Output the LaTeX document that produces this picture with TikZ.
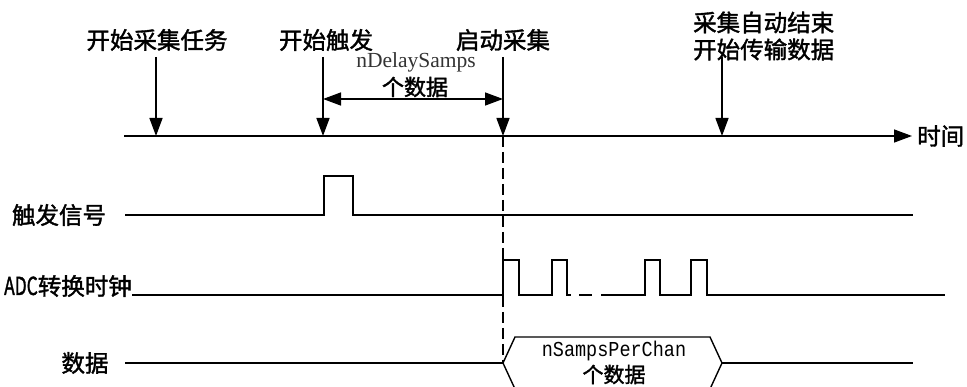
\documentclass[tikz,border=0pt]{standalone}
\usepackage{fontspec}
\setmainfont{Noto Sans CJK SC}[FakeBold=1.6]
\newfontfamily\serifen{Liberation Serif}
\newfontfamily\monoen{Liberation Mono}
\usetikzlibrary{arrows.meta}
\tikzset{
  lbl/.style={font=\fontsize{23.5}{27}\selectfont, inner sep=0pt, align=left},
  sig/.style={line width=1.4pt, line join=miter},
  evt/.style={line width=1.4pt, -{Triangle[length=18pt,width=13pt]}},
  span/.style={line width=1.4pt, {Triangle[length=18pt,width=13pt]}-{Triangle[length=18pt,width=13pt]}},
  guide/.style={line width=1.2pt, dash pattern=on 11pt off 5pt},
}
\begin{document}
\begin{tikzpicture}[x=1pt,y=-1pt]
\useasboundingbox (0,0) rectangle (967,387);
\clip (0,0) rectangle (967,387);

% time axis
\coordinate (ax0) at (124,136);
\node[lbl, anchor=west] (time) at (917,136) {时间};
\draw[evt] (ax0) -- ([xshift=-5pt]time.west);

% event labels
\node[lbl] (e1) at (157,40) {开始采集任务};
\node[lbl] (e2) at (326,40) {开始触发};
\node[lbl] (e3) at (503,40) {启动采集};
\node[lbl, anchor=west] (e4) at (693,36) {采集自动结束\\开始传输数据};

% event arrows
\coordinate (a1) at (156,57);  \coordinate (t1) at (156,136);
\coordinate (a2) at (323,57);  \coordinate (t2) at (323,136);
\coordinate (a3) at (503,57);  \coordinate (t3) at (503,136);
\coordinate (a4) at (722,57);  \coordinate (t4) at (722,136);
\draw[evt] (a1) -- (t1);
\draw[evt] (a2) -- (t2);
\draw[evt] (a3) -- (t3);
\draw[evt] (a4) -- (t4);

% delay span
\coordinate (d1) at (323,99);
\coordinate (d2) at (503,99);
\draw[span] (d1) -- (d2);
\node[inner sep=0pt, font=\serifen\fontsize{21.5}{24}\selectfont, text=black!80] (dly) at (416,62) {nDelaySamps};
\node[inner sep=0pt, font=\fontsize{22}{24}\selectfont] (dlyc) at (415,87) {个数据};

% trigger signal
\node[lbl] (trig) at (59,215) {触发信号};
\coordinate (tr0) at (125,215);
\coordinate (tr1) at (913,215);
\draw[sig] (tr0) -- (324,215) -- (324,176) -- (353,176) -- (353,215) -- (tr1);

% ADC clock
\node[lbl, anchor=east] (clk) at (132,286) {\scalebox{0.74}[1.05]{ADC}转换时钟};
\coordinate (ck0) at (132,295);
\coordinate (ck1) at (945,295);
\draw[sig] (ck0) -- (503,295) -- (503,260) -- (519,260) -- (519,295)
  -- (552,295) -- (552,260) -- (567,260) -- (567,295) -- (571,295);
\draw[sig] (579,295) -- (592,295);
\draw[sig] (601,295) -- (645,295) -- (645,260) -- (660,260) -- (660,295)
  -- (691,295) -- (691,260) -- (707,260) -- (707,295) -- (ck1);

% data
\node[lbl] (dat) at (85,363) {数据};
\coordinate (dt0) at (125,363);
\coordinate (hl) at (503,363);
\coordinate (hr) at (722,363);
\coordinate (dt1) at (913,363);
\draw[sig] (dt0) -- (hl);
\draw[sig] (hl) -- (515,337) -- (710,337) -- (hr) -- (710,389) -- (515,389) -- cycle;
\draw[sig] (hr) -- (dt1);
\node[inner sep=0pt, font=\monoen\fontsize{18.5}{20}\selectfont] (nspc) at (614,351) {\scalebox{1}[1.15]{nSampsPerChan}};
\node[inner sep=0pt, font=\fontsize{21}{22}\selectfont] (nspcc) at (614,374.5) {个数据};

% guide line
\draw[guide] (t3) -- (hl);
\end{tikzpicture}
\end{document}
